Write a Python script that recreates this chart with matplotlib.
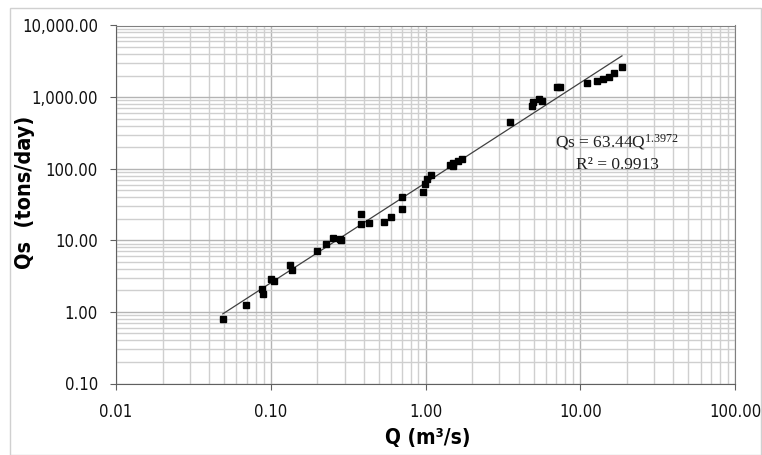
import numpy as np
import matplotlib
matplotlib.use("Agg")
import matplotlib.pyplot as plt
from matplotlib.ticker import FuncFormatter, LogLocator, NullFormatter
from matplotlib.patches import Rectangle

# discharge Q (m3/s) and sediment load Qs (tons/day)
q = [0.049, 0.069, 0.088, 0.089, 0.100, 0.105, 0.133, 0.138, 0.198, 0.228,
     0.251, 0.280, 0.285, 0.381, 0.385, 0.432, 0.537, 0.598, 0.701, 0.701,
     0.963, 0.993, 1.03, 1.08, 1.43, 1.51, 1.51, 1.61, 1.71, 3.52,
     4.85, 4.95, 5.40, 5.64, 7.05, 7.40, 11.0, 12.8, 14.1, 15.3, 16.6, 18.6]
qs = [0.80, 1.26, 2.10, 1.75, 2.85, 2.70, 4.5, 3.8, 7.1, 8.9,
      10.7, 10.3, 10.0, 16.9, 23.1, 17.6, 18.0, 21.4, 39.8, 27.1,
      46.8, 61.1, 71.8, 81.7, 112.8, 110.0, 121.0, 129.0, 136.0, 453.0,
      751.0, 860.0, 950.0, 880.0, 1400.0, 1400.0, 1590.0, 1690.0, 1790.0, 1930.0, 2190.0, 2610.0]

# power-law rating curve Qs = a * Q^b
coef_a = 63.44
coef_b = 1.3972
r2 = 0.9913

xticks = [0.01, 0.1, 1, 10, 100]
yticks = [0.1, 1, 10, 100, 1000, 10000]

plt.rcParams['mathtext.fontset'] = 'custom'
plt.rcParams['mathtext.rm'] = 'Liberation Serif'
plt.rcParams['mathtext.default'] = 'rm'

W, H = 762, 455


def fx(px):
    return px / W


def fy(py):
    return 1 - py / H


fig = plt.figure(figsize=(W / 100, H / 100), dpi=100)
ax = fig.add_axes([fx(116), fy(383.5), 619 / W, 358 / H])

ax.set_xscale('log')
ax.set_yscale('log')
ax.set_xlim(0.01, 100)
ax.set_ylim(0.1, 10000)

ax.xaxis.set_minor_locator(LogLocator(base=10, subs=np.arange(2, 10)))
ax.yaxis.set_minor_locator(LogLocator(base=10, subs=np.arange(2, 10)))
ax.xaxis.set_minor_formatter(NullFormatter())
ax.yaxis.set_minor_formatter(NullFormatter())
ax.set_xticks(xticks)
ax.set_yticks(yticks)
fmt = FuncFormatter(lambda v, pos: '{:,.2f}'.format(v))
ax.xaxis.set_major_formatter(fmt)
ax.yaxis.set_major_formatter(fmt)

ax.grid(True, which='major', color='#b4b4b4', lw=1.0)
ax.grid(True, which='minor', color='#cfcfcf', lw=1.0)
ax.set_axisbelow(True)

ax.tick_params(which='major', direction='out', length=4, width=0.8, color='#606060')
ax.tick_params(which='minor', length=0)
ax.tick_params(axis='x', pad=10)
ax.tick_params(axis='y', pad=9)
for lab in ax.get_xticklabels() + ax.get_yticklabels():
    lab.set_family('DejaVu Sans')
    lab.set_stretch('condensed')
    lab.set_fontsize(12)
    lab.set_color('#111111')

for side in ['left', 'bottom']:
    ax.spines[side].set_color('#606060')
for side in ['top', 'right']:
    ax.spines[side].set_color('#808080')

# trend line over the range of the data
qline = np.logspace(np.log10(min(q)), np.log10(max(q)), 50)
ax.plot(qline, coef_a * qline ** coef_b, color='#404040', lw=0.9, zorder=3)
ax.plot(q, qs, 's', color='black', ms=4.5, zorder=4)

fig.text(fx(617), fy(147), 'Qs = 63.44Q$^{1.3972}$', ha='center',
         va='baseline', fontsize=12.5, family='Liberation Serif', color='#202020')
fig.text(fx(617), fy(169), 'R² = 0.9913', ha='center', va='baseline',
         fontsize=12.5, family='Liberation Serif', color='#202020')

fig.text(fx(428), fy(438), 'Q (m³/s)', ha='center', va='center',
         fontsize=15, fontweight='bold', family='DejaVu Sans', stretch='condensed')
fig.text(fx(25), fy(192), 'Qs  (tons/day)', ha='center', va='center',
         rotation=90, fontsize=15.5, fontweight='bold', family='DejaVu Sans',
         stretch='condensed')

fig.patches.append(Rectangle((fx(10), 0), 751 / W, 1 - 8 / H,
                             transform=fig.transFigure, fill=False,
                             edgecolor='#d0d0d0', lw=1.0))

fig.savefig('out.png', dpi=100)
